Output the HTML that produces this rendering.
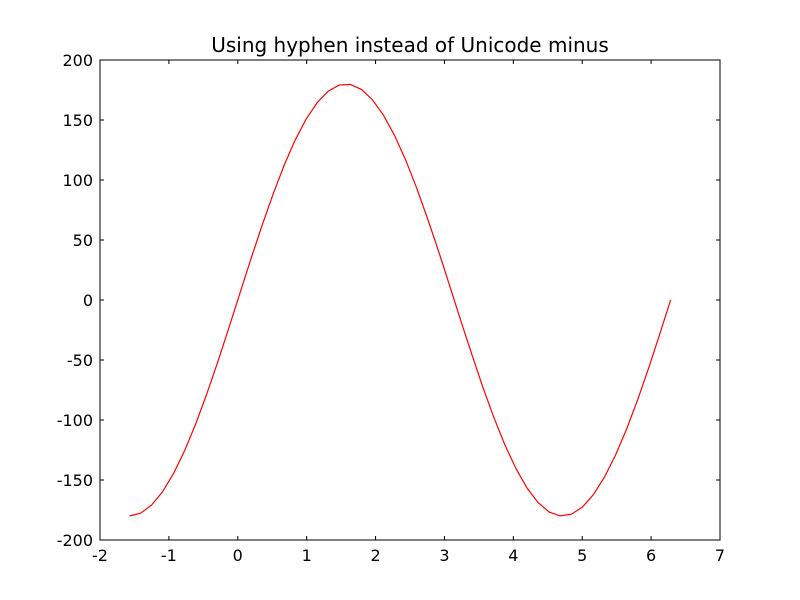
<!DOCTYPE html>
<html><head><meta charset="utf-8"><style>
body{margin:0;background:#fff;}
svg{display:block;font-family:"DejaVu Sans","Liberation Sans",sans-serif;}
</style></head><body>
<svg id="chart" width="800" height="600">
<rect width="800" height="600" fill="#fff"/>
<text x="410" y="52" font-size="20" text-anchor="middle">Using hyphen instead of Unicode minus</text>
<g id="ticks"></g>
<path id="line" fill="none" stroke="#ff0000" stroke-width="1.2"/>
<rect x="100" y="60" width="620" height="480" fill="none" stroke="#000" stroke-width="1"/>
</svg>
<script>
const xValues=[-1.571,-1.411,-1.250,-1.090,-0.930,-0.769,-0.609,-0.449,-0.288,-0.128,0.032,0.192,0.353,0.513,0.673,0.833,0.994,1.154,1.314,1.475,1.635,1.795,1.956,2.116,2.276,2.437,2.597,2.757,2.918,3.078,3.238,3.399,3.559,3.719,3.880,4.040,4.200,4.361,4.521,4.681,4.842,5.002,5.162,5.323,5.483,5.643,5.804,5.964,6.124,6.283];
const yValues=[-180,-177.7,-170.8,-159.6,-144.3,-125.2,-103.0,-78.1,-51.2,-23.0,5.8,34.4,62.2,88.3,112.3,133.3,150.9,164.6,174.1,179.2,179.6,175.5,166.8,153.9,137.1,116.7,93.3,67.5,40.1,11.5,-17.3,-45.6,-72.9,-98.2,-121.0,-140.7,-156.8,-168.9,-176.7,-179.9,-178.5,-172.6,-162.2,-147.6,-129.3,-107.7,-83.3,-56.7,-28.7,0];
const xTicks=[-2,-1,0,1,2,3,4,5,6,7];
const yTicks=[-200,-150,-100,-50,0,50,100,150,200];
const L=100,R=720,T=60,B=540,xmin=-2,xmax=7,ymin=-200,ymax=200;
const sx=v=>L+(v-xmin)/(xmax-xmin)*(R-L);
const sy=v=>B-(v-ymin)/(ymax-ymin)*(B-T);
const NS='http://www.w3.org/2000/svg';
const g=document.getElementById('ticks');
function mk(tag,attrs){const e=document.createElementNS(NS,tag);for(const k in attrs)e.setAttribute(k,attrs[k]);g.appendChild(e);return e;}
xTicks.forEach(v=>{
  const x=sx(v);
  const t1=mk('line',{x1:x,x2:x,y1:B,y2:B-4,stroke:'#000'});
  
  
  const t2=mk('line',{x1:x,x2:x,y1:T,y2:T+4,stroke:'#000'});
  
  
  const lb=mk('text',{x:x,y:B+21,'font-size':16,'text-anchor':'middle'});
  lb.textContent=String(v);
  
  
});
yTicks.forEach(v=>{
  const y=sy(v);
  const t1=mk('line',{x1:L,x2:L+4,y1:y,y2:y,stroke:'#000'});
  
  
  const t2=mk('line',{x1:R,x2:R-4,y1:y,y2:y,stroke:'#000'});
  
  
  const lb=mk('text',{x:L-7,y:y+6,'font-size':16,'text-anchor':'end'});
  lb.textContent=String(v);
  
  
});
document.getElementById('line').setAttribute('d',xValues.map((x,i)=>(i?'L':'M')+sx(x).toFixed(2)+','+sy(yValues[i]).toFixed(2)).join(''));
</script>
</body></html>
